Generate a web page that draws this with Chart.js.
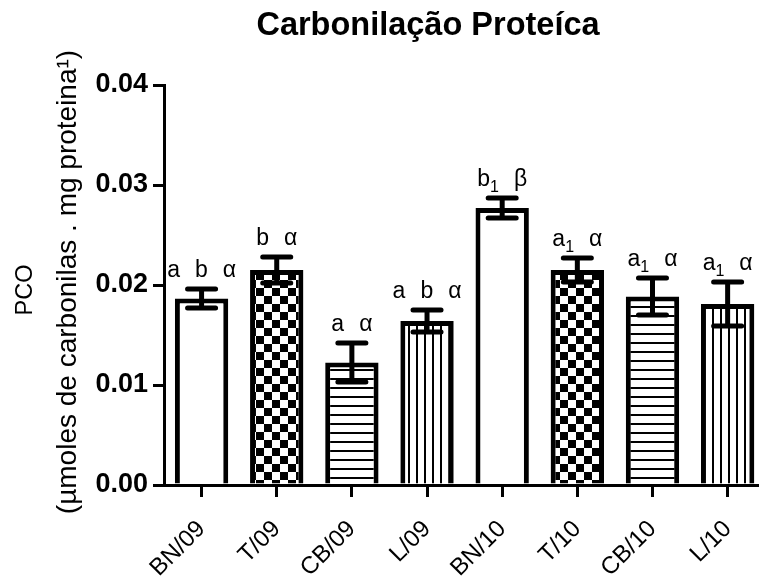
<!DOCTYPE html>
<html>
<head>
<meta charset="utf-8">
<script src="https://cdn.jsdelivr.net/npm/chart.js"></script>
<style>
  html, body { margin: 0; padding: 0; background: #fff; overflow: hidden; }
  canvas { display: block; }
</style>
</head>
<body>
<canvas id="myChart" width="766" height="582" style="width:766px;height:582px"></canvas>
<script>
const groups = ['BN/09', 'T/09', 'CB/09', 'L/09', 'BN/10', 'T/10', 'CB/10', 'L/10'];
const pcoMean = [0.01865, 0.0215, 0.01225, 0.0164, 0.0277, 0.0215, 0.01885, 0.0181];
const pcoSem = [0.00095, 0.0013, 0.00195, 0.0011, 0.0010, 0.0012, 0.00185, 0.0022];
const sigLabels = ['a b α', 'b α', 'a α', 'a b α', 'b₁ β', 'a₁ α', 'a₁ α', 'a₁ α'];
const fillKinds = ['blank', 'check', 'hlines', 'vlines', 'blank', 'check', 'hlines', 'vlines'];
const yTicks = [0, 0.01, 0.02, 0.03, 0.04];
const chartTitle = 'Carbonilação Proteíca';
const yTitle = ['PCO', '(µmoles de carbonilas . mg proteina¹)'];

const FONT = '"Liberation Sans", Arial, sans-serif';
Chart.defaults.font.family = FONT;
Chart.defaults.color = '#000';

function makePattern(kind) {
  if (kind === 'blank') return '#ffffff';
  const c = document.createElement('canvas');
  const g = c.getContext('2d');
  if (kind === 'check') {
    c.width = 16; c.height = 16;
    g.fillStyle = '#fff'; g.fillRect(0, 0, 16, 16);
    g.fillStyle = '#000'; g.fillRect(0, 0, 8, 8); g.fillRect(8, 8, 8, 8);
  } else if (kind === 'hlines') {
    c.width = 9; c.height = 9;
    g.fillStyle = '#fff'; g.fillRect(0, 0, 9, 9);
    g.fillStyle = '#000'; g.fillRect(0, 0, 9, 2);
  } else {
    c.width = 8; c.height = 8;
    g.fillStyle = '#fff'; g.fillRect(0, 0, 8, 8);
    g.fillStyle = '#000'; g.fillRect(0, 0, 2, 8);
  }
  return g.createPattern(c, 'repeat');
}

// letters with a lowered small "1" for the ₁ subscript
function drawSig(ctx, text, cx, baseY) {
  const big = '23px ' + FONT, small = '16px ' + FONT, gap = 15;
  const tokens = text.split(' ').map((tok) => {
    const parts = [];
    for (const ch of tok) {
      if (ch === '₁') parts.push({ t: '1', sub: true });
      else parts.push({ t: ch, sub: false });
    }
    return parts;
  });
  let total = 0;
  tokens.forEach((parts, k) => {
    parts.forEach((p) => {
      ctx.font = p.sub ? small : big;
      p.w = ctx.measureText(p.t).width;
      total += p.w;
    });
    if (k < tokens.length - 1) total += gap;
  });
  let x = cx - total / 2;
  ctx.fillStyle = '#000';
  ctx.textAlign = 'left';
  ctx.textBaseline = 'alphabetic';
  tokens.forEach((parts) => {
    parts.forEach((p) => {
      ctx.font = p.sub ? small : big;
      ctx.fillText(p.t, x, baseY + (p.sub ? 6 : 0));
      x += p.w;
    });
    x += gap;
  });
}

const errorBars = {
  id: 'errorBars',
  afterDatasetsDraw(chart) {
    const { ctx } = chart;
    const y = chart.scales.y;
    const bars = chart.getDatasetMeta(0).data;
    ctx.save();
    bars.forEach((bar, i) => {
      const top = y.getPixelForValue(pcoMean[i] + pcoSem[i]);
      const bot = y.getPixelForValue(pcoMean[i] - pcoSem[i]);
      ctx.strokeStyle = '#000';
      ctx.lineWidth = 5;
      ctx.lineCap = 'butt';
      ctx.beginPath();
      ctx.moveTo(bar.x, top);
      ctx.lineTo(bar.x, bot);
      ctx.stroke();
      ctx.lineCap = 'round';
      ctx.beginPath();
      ctx.moveTo(bar.x - 14, top);
      ctx.lineTo(bar.x + 14, top);
      ctx.moveTo(bar.x - 14, bot);
      ctx.lineTo(bar.x + 14, bot);
      ctx.stroke();
      drawSig(ctx, sigLabels[i], bar.x, top - 12);
    });
    ctx.restore();
  }
};

// chart title and the two-line y title (the second line is set larger, as in the figure)
const titles = {
  id: 'titles',
  afterDraw(chart) {
    const { ctx, chartArea } = chart;
    const midY = (chartArea.top + chartArea.bottom) / 2;
    ctx.save();
    ctx.fillStyle = '#000';
    ctx.textAlign = 'center';
    ctx.textBaseline = 'alphabetic';
    ctx.font = 'bold 32.5px ' + FONT;
    ctx.fillText(chartTitle, 428, 35);

    ctx.textBaseline = 'middle';
    ctx.translate(26, midY + 5);
    ctx.rotate(-Math.PI / 2);
    ctx.font = '23.5px ' + FONT;
    ctx.fillText(yTitle[0], 0, 0);
    ctx.restore();

    ctx.save();
    ctx.fillStyle = '#000';
    ctx.textAlign = 'center';
    ctx.textBaseline = 'middle';
    ctx.translate(68, midY - 3);
    ctx.rotate(-Math.PI / 2);
    ctx.font = '28px ' + FONT;
    ctx.fillText(yTitle[1], 0, 0);
    ctx.restore();
  }
};

new Chart(document.getElementById('myChart').getContext('2d'), {
  type: 'bar',
  data: {
    labels: groups,
    datasets: [{
      data: pcoMean,
      backgroundColor: fillKinds.map(makePattern),
      borderColor: '#000',
      borderWidth: 5,
      borderSkipped: 'start',
      categoryPercentage: 1,
      barPercentage: 0.71,
    }],
  },
  options: {
    responsive: false,
    animation: false,
    layout: { padding: { top: 85, left: 0, right: 0, bottom: 0 } },
    plugins: {
      legend: { display: false },
      tooltip: { enabled: false },
      title: { display: false },
    },
    scales: {
      x: {
        offset: true,
        grid: {
          display: true,
          offset: false,
          drawOnChartArea: false,
          drawTicks: true,
          tickLength: 12,
          color: '#000',
          lineWidth: 3,
        },
        border: { display: true, color: '#000', width: 3 },
        ticks: {
          color: '#000',
          font: { size: 24 },
          minRotation: 45,
          maxRotation: 45,
          padding: 18,
        },
        afterFit: (s) => { s.height = 582 - 485; },
      },
      y: {
        min: 0,
        max: 0.04,
        grid: {
          drawOnChartArea: false,
          drawTicks: true,
          tickLength: 11,
          color: '#000',
          lineWidth: 3,
        },
        border: { display: true, color: '#000', width: 3 },
        ticks: {
          color: '#000',
          font: { size: 27, weight: 'bold' },
          padding: 5,
          callback: (v) => Number(v).toFixed(2),
        },
        afterBuildTicks: (s) => { s.ticks = yTicks.map((v) => ({ value: v })); },
        afterFit: (s) => { s.width = 164; },
      },
    },
  },
  plugins: [errorBars, titles],
});
</script>
</body>
</html>
